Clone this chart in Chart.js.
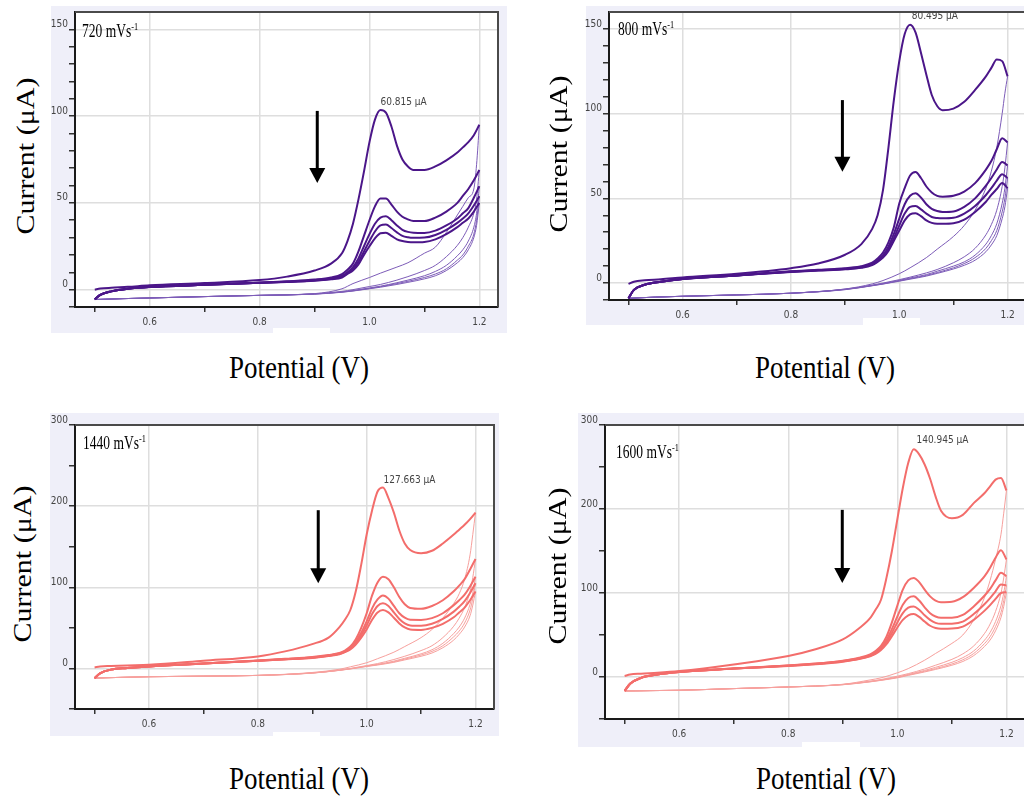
<!DOCTYPE html>
<html>
<head>
<meta charset="utf-8">
<title>CV scans</title>
<script src="https://cdn.jsdelivr.net/npm/chart.js@4.4.1/dist/chart.umd.min.js"></script>
<style>
html,body{margin:0;padding:0;background:#fff;overflow:hidden}
body{position:relative;width:1024px;height:796px}
.bg{position:absolute;background:#efeff9}
.patch{position:absolute;background:#fff}
canvas{position:absolute}
.ytitle,.xtitle,.rate{position:absolute;font-family:"Liberation Serif","Times New Roman",serif;color:#000;white-space:nowrap;line-height:1}
.ytitle{font-size:30px;transform:translate(-50%,-50%) rotate(-90deg) scaleY(0.85)}
.xtitle{font-size:31px;transform:translate(-50%,-50%) scaleX(0.87)}
.rate{font-size:18px;transform:scaleX(0.75);transform-origin:0 0}
.rate .sup{font-size:11px;position:relative;top:-7px}
</style>
</head>
<body>

<div class="bg" style="left:51px;top:6px;width:456px;height:327px"></div>
<div class="bg" style="left:586px;top:6px;width:438px;height:319px"></div>
<div class="bg" style="left:50px;top:413px;width:449px;height:323px"></div>
<div class="bg" style="left:578px;top:413px;width:446px;height:334px"></div>

<div class="patch" style="left:273px;top:328px;width:57px;height:6px"></div>
<div class="patch" style="left:863px;top:318px;width:57px;height:8px"></div>
<div class="patch" style="left:273px;top:732px;width:47px;height:5px"></div>
<div class="patch" style="left:802px;top:742px;width:58px;height:6px"></div>

<canvas id="c720" width="480" height="340" style="left:40px;top:0px"></canvas>
<canvas id="c800" width="470" height="330" style="left:570px;top:0px"></canvas>
<canvas id="c1440" width="480" height="340" style="left:40px;top:405px"></canvas>
<canvas id="c1600" width="470" height="350" style="left:570px;top:405px"></canvas>

<div class="rate" style="left:82px;top:22px">720 mVs<span class="sup">-1</span></div>
<div class="rate" style="left:618px;top:20px">800 mVs<span class="sup">-1</span></div>
<div class="rate" style="left:83px;top:434px">1440 mVs<span class="sup">-1</span></div>
<div class="rate" style="left:616px;top:443px">1600 mVs<span class="sup">-1</span></div>

<div class="ytitle" style="left:25px;top:156px">Current (μA)</div>
<div class="ytitle" style="left:558px;top:154px">Current (μA)</div>
<div class="ytitle" style="left:22px;top:564px">Current (μA)</div>
<div class="ytitle" style="left:557px;top:566px">Current (μA)</div>

<div class="xtitle" style="left:299px;top:367px">Potential (V)</div>
<div class="xtitle" style="left:825px;top:367px">Potential (V)</div>
<div class="xtitle" style="left:299px;top:778px">Potential (V)</div>
<div class="xtitle" style="left:826px;top:778px">Potential (V)</div>

<script>

// potential grids (V) for the anodic and the return sweep
const potentialFwd=[0.5,0.51,0.53,0.56,0.6,0.7,0.8,0.85,0.9,0.93,0.95,0.96,0.97,0.98,0.99,1.0,1.01,1.02,1.03,1.04,1.05,1.06,1.07,1.08,1.1,1.12,1.14,1.16,1.17,1.18,1.19,1.2]
const potentialRev=[1.2,1.195,1.19,1.18,1.17,1.16,1.14,1.12,1.1,1.07,1.05,1.02,1.0,0.97,0.95,0.9,0.8,0.7,0.6,0.55,0.52,0.5]

const xTicks=[0.5,0.6,0.7,0.8,0.9,1.0,1.1,1.2]
const yTicksLow=[-10,0,10,20,30,40,50,60,70,80,90,100,110,120,130,140,150]
const yTicksHigh=[-50,0,50,100,150,200,250,300]

// 720 mV/s, current in uA
const fwd720_1=[0,0.6,1.1,1.6,2.5,3.8,5.5,7.5,11,15,21,28,38,52,68,85,98,103.5,102,94,83,75,71,69,69,71,74.5,79,82,85,89,95]
const fwd720_2=[-5.5,-3,-1,0.5,1.5,2.8,4,4.8,5.8,7,9,11.5,15,22,31,40,48,52.5,52.5,49,45,42,40.5,39.6,39.5,41.5,45,50,54,58,63,69]
const fwd720_3=[-5.5,-3,-1,0.5,1.5,2.8,4,4.6,5.5,6.5,8,10,13,18,25,32,38,41.5,42.3,40,37,34.5,33.3,32.8,32.7,34,37,41,44,47,53,59.6]
const fwd720_4=[-5.5,-3,-1,0.5,1.5,2.8,4,4.5,5.3,6.2,7.5,9.5,12,16,22,28,33.5,37,37.5,35.5,33,31,30.2,29.9,30,31.5,34.5,38.5,41,44,48.5,53.8]
const fwd720_5=[-5.5,-3,-1,0.5,1.5,2.8,4,4.4,5.1,6,7,9,11,14.5,20,25,29.5,32.5,32.8,31,29,28,27.5,27.3,27.5,29,32,36,38.5,41,45,50]
const rev720_1=[95,72,58,53,48,43,33,24.5,21,15.5,13,9.5,7,3.5,0.5,-2.3,-3.3,-4,-4.8,-5.2,-5.5,-5.7]
const rev720_2=[69,52,44,36,30,25.5,19,14,11,7.5,5.5,3,1.8,0,-1,-2.4,-3.3,-4,-4.8,-5.2,-5.5,-5.7]
const rev720_3=[59.6,44,36,28,23,19.5,14,10.5,8,5.5,4,2,1,-0.5,-1.3,-2.5,-3.3,-4,-4.8,-5.2,-5.5,-5.7]
const rev720_4=[53.8,40,32,25,20,17,12,9,7,4.8,3.5,1.7,0.7,-0.7,-1.4,-2.5,-3.3,-4,-4.8,-5.2,-5.5,-5.7]
const rev720_5=[50,37,30,23,18.5,15.5,11,8,6.2,4.2,3,1.4,0.5,-0.8,-1.5,-2.6,-3.3,-4,-4.8,-5.2,-5.5,-5.7]

// 800 mV/s
const fwd800_1=[-0.5,0.8,1.6,2.2,3.3,5.5,8.8,11.5,16.7,23,32,40,55,80,108,131,147,152.5,148,136,123,111,104.5,102,103,107,114,122,127,132,131,122]
const fwd800_2=[-9,-4,-1,0.8,2.4,4.5,6.9,7.8,8.8,10,12,14.5,18,24,33,47,56,63.5,65.5,62,57,53.5,51.5,51,51.5,54,59,67,72,79,85.5,83]
const fwd800_3=[-9,-4,-1,0.8,2.4,4.5,6.8,7.6,8.5,9.6,11.4,13.5,16.5,21.5,29,38,46.5,51.5,53,50.5,46.5,43.8,42.5,42,42.3,45,50,57.5,62,67,71.5,69.5]
const fwd800_4=[-9,-4,-1,0.8,2.4,4.5,6.7,7.5,8.3,9.3,11,13,15.5,20,26.5,34,41,45,45.5,43.5,41,39,38.4,38.2,38.5,41,45.5,52,56,60.5,64.3,62]
const fwd800_5=[-9,-4,-1,0.8,2.4,4.5,6.6,7.4,8.1,9,10.6,12.5,15,19,25,31,37,40.5,41.2,39.5,37,35.5,35,35,35.3,37.5,42,48,52,55.5,59,56]
const rev800_1=[122,112,100,80,66,56,43,34,27.5,20,15,9,5.5,1.5,-0.5,-3.5,-6,-7,-7.8,-8.3,-8.7,-9]
const rev800_2=[83,68,57,43,34.5,28.5,20.5,15.5,12,8,6,3.5,2,0,-1.2,-3.6,-6,-7,-7.8,-8.3,-8.7,-9]
const rev800_3=[69.5,56,47,35,28,23,16.5,12.5,10,7,5,3,1.6,-0.3,-1.4,-3.7,-6,-7,-7.8,-8.3,-8.7,-9]
const rev800_4=[62,50,42,31,25,20.5,15,11.5,9,6.2,4.5,2.6,1.3,-0.5,-1.5,-3.8,-6,-7,-7.8,-8.3,-8.7,-9]
const rev800_5=[56,45,38,28,22.5,18.5,13.5,10.5,8.3,5.7,4.1,2.3,1.1,-0.6,-1.6,-3.9,-6,-7,-7.8,-8.3,-8.7,-9]

// 1440 mV/s
const fwd1440_1=[1.2,2.5,3,3.7,4.5,9.5,14.8,21,30,38,51,60,72,95,128,165,195,218,223,210,192,170,154,146,142,145,154,165,171,177,184,192]
const fwd1440_2=[-12,-6,-1.5,0.5,2.5,6,9.8,11.8,14,16.5,19,22,27,36,50,68,90,106,113,110,100,88,79,74.5,73.5,77,84,95,102,110,122,134.8]
const fwd1440_3=[-12,-6,-1.5,0.5,2.5,6,9.6,11.5,13.6,16,18.5,21,25.5,33,44,58,74,85,89.8,86,77,68,62.5,60,59.8,62,68,78,84,91,101,113]
const fwd1440_4=[-12,-6,-1.5,0.5,2.5,6,9.5,11.3,13.3,15.6,18,20.5,24.5,31,41,53,67,77,80.3,77,69,61,55.5,53,52.5,55,61,70,76,83,93,105]
const fwd1440_5=[-12,-6,-1.5,0.5,2.5,6,9.4,11.1,13,15.2,17.5,20,23.5,29.5,38,48,60,69,72,69,62.5,55.5,50.5,48,47.5,50,55,63,69,75,84,94.7]
const rev1440_1=[192,165,140,110,92,80,62,48,38,27,20,12,7,2,-1,-5,-8.6,-9.5,-10.2,-11,-11.5,-12]
const rev1440_2=[134.8,112,95,75,62,52,38,28,22,15,11,6,3.5,0,-2,-5.5,-8.6,-9.5,-10.2,-11,-11.5,-12]
const rev1440_3=[113,93,79,62,51,43,31,23,18,12.5,9,5,3,-0.3,-2.2,-5.6,-8.6,-9.5,-10.2,-11,-11.5,-12]
const rev1440_4=[105,86,72,56,46,39,28,21,16.5,11.5,8.2,4.6,2.7,-0.5,-2.3,-5.7,-8.6,-9.5,-10.2,-11,-11.5,-12]
const rev1440_5=[94.7,78,65,51,42,35,25.5,19,15,10.5,7.5,4.2,2.4,-0.7,-2.4,-5.8,-8.6,-9.5,-10.2,-11,-11.5,-12]

// 1600 mV/s
const fwd1600_1=[1.2,3,4,5,7,15,25,33,44.7,58,70,80,92,118,150,188,225,255,271,265,253,236,215,198,189,193,207,219,227,235,237,222]
const fwd1600_2=[-16.6,-8,-1,3,6,10,13.8,16,19.5,23,27,31,37,48,65,85,104,115,118,113,104,96,91,89,89.5,95,106,120,130,142,151,140]
const fwd1600_3=[-16.6,-8,-1,3,6,10,13.6,15.7,19,22.3,26,29.5,35,44,57,72,86,94,96,91,83,76,72,70.5,70.5,74,84,97,105,115,124,120]
const fwd1600_4=[-16.6,-8,-1,3,6,10,13.4,15.4,18.6,21.8,25.3,28.5,33.5,41.5,52.5,65,76,82.5,84,80,73.5,68,64.5,63.3,63.5,66,75,87,94,102,110,109]
const fwd1600_5=[-16.6,-8,-1,3,6,10,13.2,15.1,18.2,21.3,24.6,27.5,32,39,48.5,59,68,73.5,75,71.5,66,61,58.3,57.4,57.6,60,68,79,85.5,93,100,101]
const rev1600_1=[222,195,170,140,115,95,68,50,40,28,20,10,5,-1,-3.5,-8.7,-11.9,-13.8,-15.8,-16.2,-16.5,-16.6]
const rev1600_2=[140,118,100,78,63,52,37,27.5,21,14,9.5,4,1,-3,-5,-8.8,-11.9,-13.8,-15.8,-16.2,-16.5,-16.6]
const rev1600_3=[120,100,85,66,53,44,31,23,17.5,11.5,7.8,3,0,-3.5,-5.3,-9,-11.9,-13.8,-15.8,-16.2,-16.5,-16.6]
const rev1600_4=[109,91,77,60,48,40,28,20.5,15.5,10,6.8,2.4,-0.5,-3.8,-5.6,-9.1,-11.9,-13.8,-15.8,-16.2,-16.5,-16.6]
const rev1600_5=[101,84,71,55,44,36.5,25.5,18.5,14,9,6,1.9,-1,-4,-5.8,-9.2,-11.9,-13.8,-15.8,-16.2,-16.5,-16.6]

const tickFont="'Liberation Sans Narrow','DejaVu Sans Condensed','Liberation Sans',sans-serif"

function toPoints(xs,ys){
return ys.map((y,i)=>({x:xs[i],y:y}))
}

function cycleSets(fwd,rev,col,colRev){

const sets=[]

fwd.forEach(ys=>{
sets.push({data:toPoints(potentialFwd,ys),borderColor:col,borderWidth:2,showLine:true})
})

rev.forEach(ys=>{
sets.push({data:toPoints(potentialRev,ys),borderColor:colRev,borderWidth:1,showLine:true})
})

return sets

}

function decor(cfg){

return {
id:"decor",

beforeDraw(chart){
const a=chart.chartArea
const ctx=chart.ctx
ctx.save()
ctx.fillStyle="#fff"
ctx.fillRect(a.left,a.top,a.right-a.left,a.bottom-a.top)
ctx.restore()
},

afterDraw(chart){

const a=chart.chartArea
const ctx=chart.ctx
const sx=chart.scales.x
const sy=chart.scales.y

ctx.save()

ctx.strokeStyle="#4a4a4a"
ctx.lineWidth=2
ctx.beginPath()
ctx.moveTo(a.left,a.top)
ctx.lineTo(a.right,a.top)
ctx.lineTo(a.right,a.bottom)
ctx.stroke()

const ax=sx.getPixelForValue(cfg.arrow[0])
const ay1=sy.getPixelForValue(cfg.arrow[1])
const ay2=sy.getPixelForValue(cfg.arrow[2])
ctx.strokeStyle="#000"
ctx.fillStyle="#000"
ctx.lineWidth=3
ctx.beginPath()
ctx.moveTo(ax,ay1)
ctx.lineTo(ax,ay2-12)
ctx.stroke()
ctx.beginPath()
ctx.moveTo(ax-8,ay2-15)
ctx.lineTo(ax+8,ay2-15)
ctx.lineTo(ax,ay2)
ctx.closePath()
ctx.fill()

ctx.font="10px "+tickFont
ctx.fillStyle="#444"
ctx.textAlign="left"
ctx.textBaseline="bottom"
ctx.fillText(cfg.peak[0],sx.getPixelForValue(cfg.peak[1]),sy.getPixelForValue(cfg.peak[2]))

ctx.restore()

}
}

}

function makeChart(id,cfg){

const majorX=v=>Math.round(v*10)%2===0
const majorY=v=>Math.round(v)%cfg.yMajor===0

new Chart(document.getElementById(id),{

type:"scatter",

data:{datasets:cfg.sets},

options:{
responsive:false,
animation:false,
events:[],
devicePixelRatio:1,
layout:{padding:cfg.pad},
elements:{
point:{radius:0},
line:{cubicInterpolationMode:"monotone",fill:false,borderJoinStyle:"round"}
},
plugins:{legend:{display:false},tooltip:{enabled:false}},
scales:{
x:{
type:"linear",
min:0.464,
max:1.234,
afterBuildTicks:s=>{s.ticks=xTicks.map(v=>({value:v}))},
afterFit:s=>{s.height=cfg.xHeight},
ticks:{
callback:v=>majorX(v)?v.toFixed(1):"",
font:{size:10,family:tickFont},
color:"#444",
padding:4,
maxRotation:0,
autoSkip:false
},
grid:{
color:c=>c.tick&&majorX(c.tick.value)?"#dedede":"rgba(0,0,0,0)",
lineWidth:1.5,
tickLength:5,
tickColor:c=>c.tick&&majorX(c.tick.value)?"rgba(0,0,0,0)":"#333"
},
border:{color:"#1a1a1a",width:2}
},
y:{
type:"linear",
min:cfg.yMin,
max:cfg.yMax,
afterBuildTicks:s=>{s.ticks=cfg.yTicks.map(v=>({value:v}))},
afterFit:s=>{s.width=cfg.yWidth},
ticks:{
callback:v=>majorY(v)?String(v):"",
font:{size:10,family:tickFont},
color:"#444",
padding:1,
labelOffset:-5,
autoSkip:false
},
grid:{
color:c=>c.tick&&majorY(c.tick.value)?"#dedede":"rgba(0,0,0,0)",
lineWidth:1.5,
tickLength:6,
tickColor:"#333"
},
border:{color:"#1a1a1a",width:2}
}
}
},

plugins:[decor(cfg)]

})

}

const purple="#4b1689"
const purpleThin="#7d5cb8"
const salmon="#f36d6b"
const salmonThin="#f7a09d"

makeChart("c720",{
sets:cycleSets([fwd720_1,fwd720_2,fwd720_3,fwd720_4,fwd720_5],[rev720_1,rev720_2,rev720_3,rev720_4,rev720_5],purple,purpleThin),
yMin:-10,yMax:160,yMajor:50,yTicks:yTicksLow,
pad:{left:0,top:12,right:22,bottom:0},yWidth:35,xHeight:33,
arrow:[0.905,103,61.5],
peak:["60.815 μA",1.02,105]
})

makeChart("c800",{
sets:cycleSets([fwd800_1,fwd800_2,fwd800_3,fwd800_4,fwd800_5],[rev800_1,rev800_2,rev800_3,rev800_4,rev800_5],purple,purpleThin),
yMin:-10,yMax:160,yMajor:50,yTicks:yTicksLow,
pad:{left:0,top:12,right:14,bottom:0},yWidth:39,xHeight:30,
arrow:[0.895,108,65.7],
peak:["80.495 μA",1.023,154.5]
})

makeChart("c1440",{
sets:cycleSets([fwd1440_1,fwd1440_2,fwd1440_3,fwd1440_4,fwd1440_5],[rev1440_1,rev1440_2,rev1440_3,rev1440_4,rev1440_5],salmon,salmonThin),
yMin:-50,yMax:300,yMajor:100,yTicks:yTicksHigh,
pad:{left:0,top:20,right:26,bottom:0},yWidth:35,xHeight:36,
arrow:[0.911,195,105],
peak:["127.663 μA",1.031,226]
})

makeChart("c1600",{
sets:cycleSets([fwd1600_1,fwd1600_2,fwd1600_3,fwd1600_4,fwd1600_5],[rev1600_1,rev1600_2,rev1600_3,rev1600_4,rev1600_5],salmon,salmonThin),
yMin:-50,yMax:300,yMajor:100,yTicks:yTicksHigh,
pad:{left:0,top:20,right:15,bottom:0},yWidth:35,xHeight:36,
arrow:[0.899,199,112],
peak:["140.945 μA",1.035,276]
})

</script>
</body>
</html>
